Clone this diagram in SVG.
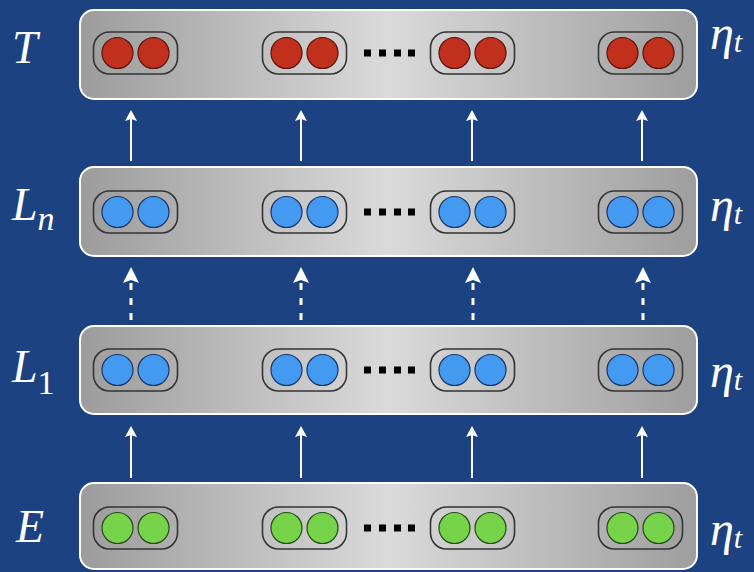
<svg xmlns="http://www.w3.org/2000/svg" width="754" height="572" viewBox="0 0 754 572">
<style>
.lbl{font-family:"Liberation Serif","DejaVu Serif",serif;font-style:italic;fill:#ffffff}
.eta{font-family:"Liberation Serif","DejaVu Serif",serif;font-style:italic;fill:#ffffff;font-size:48px}
.sub{font-size:30px}
.layer{stroke:#ffffff;stroke-width:2;fill:url(#g)}
.pill{fill:none;stroke:#333333;stroke-width:1.6}
.red{fill:#c0301c;stroke:#5a1408;stroke-width:1.2}
.blue{fill:#4499f0;stroke:#1a3468;stroke-width:1.2}
.green{fill:#77d44a;stroke:#234a18;stroke-width:1.2}
.dot{fill:#000000}
.sol{stroke:#ffffff;stroke-width:2;fill:none;marker-end:url(#hs)}
.dsh{stroke:#ffffff;stroke-width:3;fill:none;stroke-dasharray:7 8;marker-end:url(#hd)}
</style>
<defs>
<linearGradient id="g" x1="0" y1="0" x2="1" y2="0">
<stop offset="0" stop-color="#9c9c9c"/>
<stop offset="0.5" stop-color="#dadada"/>
<stop offset="1" stop-color="#9e9e9e"/>
</linearGradient>
<marker id="hs" viewBox="0 -6 11 12" markerWidth="11" markerHeight="12" refX="2" refY="0" orient="auto" markerUnits="userSpaceOnUse">
<path d="M0,-6 L11,0 L0,6 L2,0 z" fill="#ffffff"/>
</marker>
<marker id="hd" viewBox="0 -8 16 16" markerWidth="16" markerHeight="16" refX="3" refY="0" orient="auto" markerUnits="userSpaceOnUse">
<path d="M0,-8 L16,0 L0,8 L3,0 z" fill="#ffffff"/>
</marker>
<g id="pair">
<rect class="pill" x="-42" y="-21" width="84" height="42" rx="16"/>
</g>
<g id="dots">
<rect x="364" y="-3.5" width="7" height="7"/>
<rect x="379" y="-3.5" width="7" height="7"/>
<rect x="394" y="-3.5" width="7" height="7"/>
<rect x="408" y="-3.5" width="7" height="7"/>
</g>
</defs>
<rect x="0" y="0" width="754" height="572" fill="#1c4282"/>

<g id="layer-T">
<rect class="layer" x="80" y="10" width="617" height="89" rx="14"/>
<text class="lbl" x="12" y="63" font-size="46">T</text>
<text class="eta" x="710" y="49">η<tspan class="sub" dy="3">t</tspan></text>
<g transform="translate(0,53)">
<use href="#dots" class="dot"/>
<g transform="translate(135.5,0)"><use href="#pair"/><circle class="red" cx="-18" cy="0" r="15.5"/><circle class="red" cx="18" cy="0" r="15.5"/></g>
<g transform="translate(304.5,0)"><use href="#pair"/><circle class="red" cx="-18" cy="0" r="15.5"/><circle class="red" cx="18" cy="0" r="15.5"/></g>
<g transform="translate(472.5,0)"><use href="#pair"/><circle class="red" cx="-18" cy="0" r="15.5"/><circle class="red" cx="18" cy="0" r="15.5"/></g>
<g transform="translate(640.5,0)"><use href="#pair"/><circle class="red" cx="-18" cy="0" r="15.5"/><circle class="red" cx="18" cy="0" r="15.5"/></g>
</g>
</g>

<g id="layer-Ln">
<rect class="layer" x="80" y="167" width="617" height="89" rx="14"/>
<text class="lbl" x="12" y="220" font-size="46">L<tspan font-size="34" dy="10">n</tspan></text>
<text class="eta" x="710" y="221">η<tspan class="sub" dy="3">t</tspan></text>
<g transform="translate(0,212)">
<use href="#dots" class="dot"/>
<g transform="translate(135.5,0)"><use href="#pair"/><circle class="blue" cx="-18" cy="0" r="15.5"/><circle class="blue" cx="18" cy="0" r="15.5"/></g>
<g transform="translate(304.5,0)"><use href="#pair"/><circle class="blue" cx="-18" cy="0" r="15.5"/><circle class="blue" cx="18" cy="0" r="15.5"/></g>
<g transform="translate(472.5,0)"><use href="#pair"/><circle class="blue" cx="-18" cy="0" r="15.5"/><circle class="blue" cx="18" cy="0" r="15.5"/></g>
<g transform="translate(640.5,0)"><use href="#pair"/><circle class="blue" cx="-18" cy="0" r="15.5"/><circle class="blue" cx="18" cy="0" r="15.5"/></g>
</g>
</g>

<g id="layer-L1">
<rect class="layer" x="80" y="326" width="617" height="88" rx="14"/>
<text class="lbl" x="12" y="382" font-size="46">L<tspan font-style="normal" font-size="34" dy="12">1</tspan></text>
<text class="eta" x="710" y="387">η<tspan class="sub" dy="3">t</tspan></text>
<g transform="translate(0,370)">
<use href="#dots" class="dot"/>
<g transform="translate(135.5,0)"><use href="#pair"/><circle class="blue" cx="-18" cy="0" r="15.5"/><circle class="blue" cx="18" cy="0" r="15.5"/></g>
<g transform="translate(304.5,0)"><use href="#pair"/><circle class="blue" cx="-18" cy="0" r="15.5"/><circle class="blue" cx="18" cy="0" r="15.5"/></g>
<g transform="translate(472.5,0)"><use href="#pair"/><circle class="blue" cx="-18" cy="0" r="15.5"/><circle class="blue" cx="18" cy="0" r="15.5"/></g>
<g transform="translate(640.5,0)"><use href="#pair"/><circle class="blue" cx="-18" cy="0" r="15.5"/><circle class="blue" cx="18" cy="0" r="15.5"/></g>
</g>
</g>

<g id="layer-E">
<rect class="layer" x="80" y="483" width="617" height="86" rx="14"/>
<text class="lbl" x="16" y="542" font-size="46">E</text>
<text class="eta" x="710" y="545">η<tspan class="sub" dy="3">t</tspan></text>
<g transform="translate(0,528)">
<use href="#dots" class="dot"/>
<g transform="translate(135.5,0)"><use href="#pair"/><circle class="green" cx="-18" cy="0" r="15.5"/><circle class="green" cx="18" cy="0" r="15.5"/></g>
<g transform="translate(304.5,0)"><use href="#pair"/><circle class="green" cx="-18" cy="0" r="15.5"/><circle class="green" cx="18" cy="0" r="15.5"/></g>
<g transform="translate(472.5,0)"><use href="#pair"/><circle class="green" cx="-18" cy="0" r="15.5"/><circle class="green" cx="18" cy="0" r="15.5"/></g>
<g transform="translate(640.5,0)"><use href="#pair"/><circle class="green" cx="-18" cy="0" r="15.5"/><circle class="green" cx="18" cy="0" r="15.5"/></g>
</g>
</g>

<g id="connectors">
<path class="sol" d="M131,161 V119"/>
<path class="sol" d="M301,161 V119"/>
<path class="sol" d="M472,161 V119"/>
<path class="sol" d="M642,161 V119"/>
<path class="dsh" d="M131,320 V280"/>
<path class="dsh" d="M301,320 V280"/>
<path class="dsh" d="M473,320 V280"/>
<path class="dsh" d="M643,320 V280"/>
<path class="sol" d="M131,478 V435"/>
<path class="sol" d="M301,478 V435"/>
<path class="sol" d="M472,478 V435"/>
<path class="sol" d="M642,478 V435"/>
</g>
</svg>
